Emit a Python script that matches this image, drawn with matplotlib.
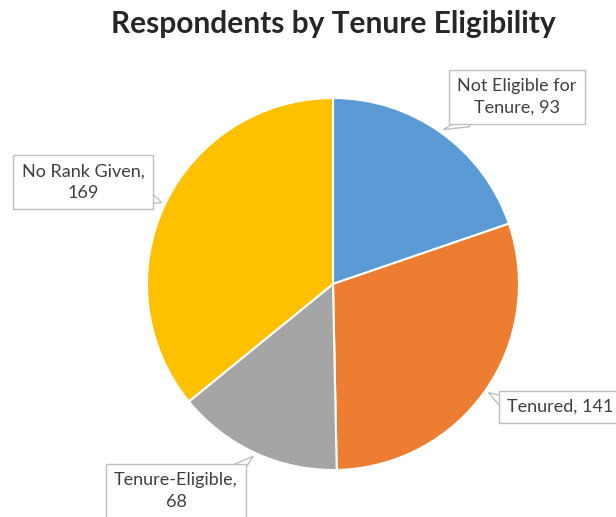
import numpy as np
import matplotlib.pyplot as plt
from matplotlib.patches import Polygon

plt.rcParams['font.family'] = ['Lato', 'DejaVu Sans']

values = [93, 141, 68, 169]
colors = ["#5B9BD5", "#ED7D31", "#A5A5A5", "#FFC000"]
label_text = ["Not Eligible for\nTenure, 93", "Tenured, 141",
              "Tenure-Eligible,\n68", "No Rank Given,\n169"]

W, H = 616, 517

fig = plt.figure(figsize=(W / 100, H / 100), dpi=100)

# pie centre and radius in pixels
cx, cy, r = 333, 284, 186
ax = fig.add_axes([(cx - r) / W, (H - cy - r) / H, 2 * r / W, 2 * r / H])
wedges, _ = ax.pie(values, colors=colors, startangle=90, counterclock=False,
                   radius=1, wedgeprops=dict(edgecolor="white", linewidth=1.5))
ax.set_xlim(-1, 1)
ax.set_ylim(-1, 1)
ax.set_aspect("equal")
ax.axis("off")

fig.text(cx / W, 1 - 33 / H, "Respondents by Tenure Eligibility",
         ha="center", va="baseline", fontsize=21.5, fontweight="bold",
         color="#262626")

# label box centres (pixels from top-left), alignment, pointer base anchor
box_pos = [(517, 97, "center"), (507, 407, "left"),
           (176, 491, "center"), (83, 182, "center")]
ptr_base = [(468, 121), (504, 402), (238, 469), (149, 198)]

to_fig = ax.transData + fig.transFigure.inverted()

for w, txt, (bx, by, ha), (px, py) in zip(wedges, label_text, box_pos, ptr_base):
    mid = np.deg2rad((w.theta1 + w.theta2) / 2)
    tip = np.array(to_fig.transform((1.02 * np.cos(mid), 1.02 * np.sin(mid))))
    base = np.array([px / W, 1 - py / H])
    # callout pointer: thin triangle from inside the box to the slice
    d = (tip - base) * [W, H]
    n = np.array([-d[1], d[0]]) / np.hypot(*d) * 6 / [W, H]
    fig.patches.append(Polygon([base + n, tip, base - n], closed=True,
                               fc="white", ec="#BFBFBF", lw=1,
                               transform=fig.transFigure, figure=fig))
    fig.text(bx / W, 1 - by / H, txt, ha=ha, va="center",
             multialignment="center", fontsize=13, color="#404040",
             linespacing=1.4,
             bbox=dict(boxstyle="square,pad=0.45", fc="white",
                       ec="#BFBFBF", lw=1))

fig.savefig("out.png", dpi=100)
